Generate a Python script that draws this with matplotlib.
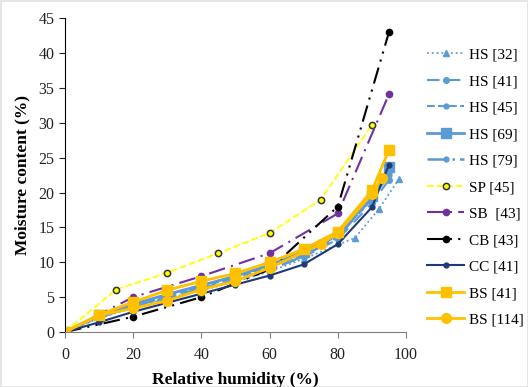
# Moisture sorption isotherms of different materials

import numpy as np
import matplotlib.pyplot as plt

plt.rcParams['font.family'] = ['Liberation Serif', 'DejaVu Serif']

# Data
rh_hs = [0, 10, 20, 30, 40, 50, 60, 70, 80, 90, 95]
rh_hs32 = [0, 10, 20, 30, 40, 50, 60, 70, 85, 92, 98]
mc_hs32 = [0, 2.0, 3.5, 4.8, 6.0, 7.2, 8.7, 10.5, 13.5, 17.6, 22.0]
mc_hs41 = [0, 2.2, 3.7, 5.0, 6.3, 7.5, 9.0, 10.8, 13.3, 18.5, 21.8]
mc_hs45 = [0, 2.3, 3.9, 5.2, 6.5, 7.8, 9.3, 11.2, 13.8, 19.0, 22.5]
mc_hs69 = [0, 2.4, 4.0, 5.4, 6.7, 8.0, 9.6, 11.5, 14.0, 19.5, 23.6]
mc_hs79 = [0, 2.1, 3.6, 4.9, 6.1, 7.4, 8.9, 10.9, 13.6, 19.2, 23.0]

rh_sp = [0, 15, 30, 45, 60, 75, 90]
mc_sp = [0, 6.1, 8.5, 11.3, 14.2, 19.0, 29.7]

rh_sb = [0, 20, 40, 60, 80, 95]
mc_sb = [0, 5.0, 8.0, 11.3, 17.0, 34.1]

rh_cb = [0, 20, 40, 60, 80, 95]
mc_cb = [0, 2.2, 5.0, 9.0, 18.0, 43.0]

rh_cc = [0, 10, 20, 30, 40, 50, 60, 70, 80, 90, 95]
mc_cc = [0, 1.4, 2.9, 4.2, 5.5, 6.8, 8.1, 9.7, 12.6, 17.9, 24.0]

rh_bs41 = [0, 10, 20, 30, 40, 50, 60, 70, 80, 90, 95]
mc_bs41 = [0, 2.5, 4.3, 6.0, 7.3, 8.4, 10.0, 11.9, 14.4, 20.3, 26.1]

rh_bs114 = [0, 10, 20, 30, 40, 50, 60, 75, 80, 90, 93]
mc_bs114 = [0, 2.4, 3.4, 4.5, 6.1, 7.3, 9.2, 12.6, 14.2, 19.8, 22.1]

blue = '#5B9BD5'
orange = '#FFC000'

fig = plt.figure(figsize=(5.28, 3.87), dpi=100)
ax = fig.add_axes([0.123, 0.142, 0.646, 0.811])

ax.plot(rh_hs32, mc_hs32, color=blue, ls=':', lw=1.3, marker='^', ms=4, label='HS [32]')
ax.plot(rh_hs, mc_hs41, color=blue, ls=(0, (6, 4)), lw=1.5, marker='o', ms=4, label='HS [41]')
ax.plot(rh_hs, mc_hs45, color=blue, ls='--', lw=1.5, marker='o', ms=3.5, label='HS [45]')
ax.plot(rh_hs, mc_hs69, color=blue, ls='-', lw=2, marker='s', ms=6.5, label='HS [69]')
ax.plot(rh_hs, mc_hs79, color=blue, ls=(0, (8, 2, 1, 2)), lw=1.8, marker='o', ms=3.5, label='HS [79]')
ax.plot(rh_sp, mc_sp, color='#FFFF00', ls='--', lw=1.3, marker='o', ms=4.5,
        mfc='#FFFF00', mec='#333333', mew=1.1, label='SP [45]')
ax.plot(rh_sb, mc_sb, color='#7030A0', ls=(0, (8, 3, 1, 3)), lw=1.5, marker='o', ms=4.5, label='SB  [43]')
ax.plot(rh_cb, mc_cb, color='black', ls=(0, (8, 3, 1, 3, 1, 3)), lw=1.5, marker='o', ms=4.5, label='CB [43]')
ax.plot(rh_cc, mc_cc, color='#1F3A78', ls='-', lw=1.5, marker='o', ms=3.5, label='CC [41]')
ax.plot(rh_bs41, mc_bs41, color=orange, ls='-', lw=2, marker='s', ms=6.5, label='BS [41]')
ax.plot(rh_bs114, mc_bs114, color=orange, ls='-', lw=2, marker='o', ms=7, label='BS [114]')

ax.set_xlim(0, 100)
ax.set_ylim(0, 45)
ax.set_xticks(np.arange(0, 101, 20))
ax.set_yticks(np.arange(0, 46, 5))
ax.spines['top'].set_visible(False)
ax.spines['right'].set_visible(False)
ax.spines['bottom'].set_color('#808080')
ax.tick_params(labelsize=11.5, direction='out', length=4, colors='#222222')
ax.tick_params(axis='x', color='#808080', pad=7)

ax.set_xlabel('Relative humidity (%)', fontsize=12.5, fontweight='bold', labelpad=6)
ax.set_ylabel('Moisture content (%)', fontsize=12.5, fontweight='bold', labelpad=6)

ax.legend(loc='upper left', bbox_to_anchor=(1.045, 0.925), frameon=False, fontsize=11,
          handlelength=2.4, handletextpad=0.3, labelspacing=0.84, borderaxespad=0)

fig.patch.set_edgecolor('#e6e6e6')
fig.patch.set_linewidth(1)

fig.savefig('out.png', dpi=100)
